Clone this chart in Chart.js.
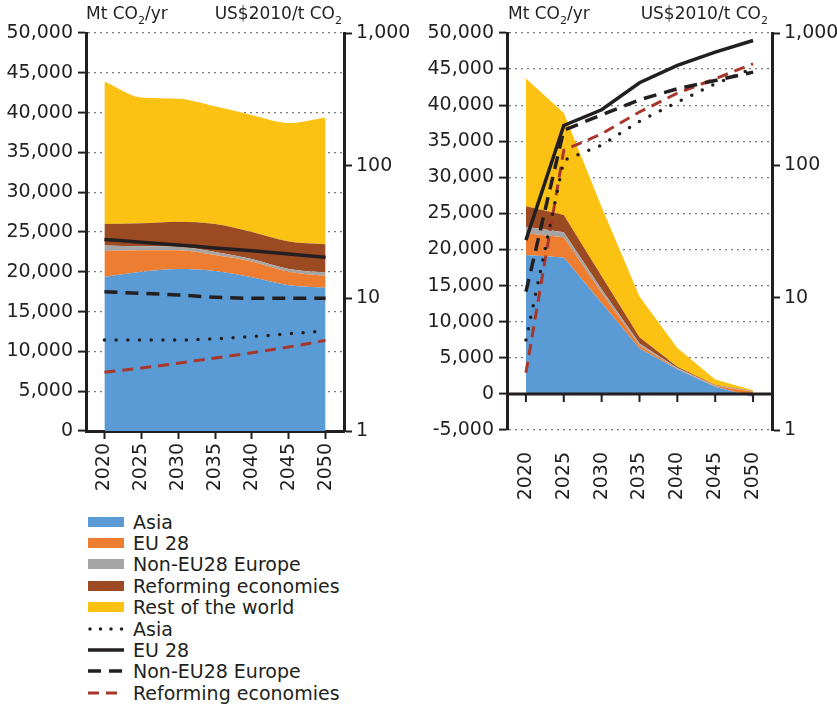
<!DOCTYPE html>
<html>
<head>
<meta charset="utf-8">
<script src="https://cdn.jsdelivr.net/npm/chart.js@4.4.1/dist/chart.umd.min.js"></script>
<style>
  body { margin: 0; background: #fff; font-family: "DejaVu Sans", sans-serif; color: #231f20; }
  #wrap { position: relative; width: 837px; height: 708px; overflow: hidden; }
  .panel { position: absolute; top: 0; height: 505px; }
  .unit { position: absolute; top: 5px; font-size: 17px; line-height: 1; white-space: nowrap; }
  .unit sub { font-size: 11px; vertical-align: -5px; }
  #legend { position: absolute; left: 88px; top: 511px; }
  .row { height: 21.4px; display: flex; align-items: center; font-size: 19px; white-space: nowrap; }
  .key { width: 36px; height: 10px; margin-right: 9px; flex: none; }
</style>
</head>
<body>
<div id="wrap">
  <div class="panel" style="left:0;width:420px">
    <canvas id="leftChart" width="420" height="505"></canvas>
    <div class="unit" style="left:86px">Mt CO<sub>2</sub>/yr</div>
    <div class="unit" style="right:78px">US$2010/t CO<sub>2</sub></div>
  </div>
  <div class="panel" style="left:420px;width:417px">
    <canvas id="rightChart" width="417" height="505"></canvas>
    <div class="unit" style="left:88px">Mt CO<sub>2</sub>/yr</div>
    <div class="unit" style="right:69px">US$2010/t CO<sub>2</sub></div>
  </div>
  <div id="legend"></div>
</div>
<script>
// years on the x axis
const years = ['2020', '2025', '2030', '2035', '2040', '2045', '2050'];

// left panel: emissions (Mt CO2/yr), stacked
const leftAsia      = [19350, 20000, 20350, 20100, 19300, 18300, 18000];
const leftEU28      = [3250, 2700, 2350, 2000, 2000, 1700, 1500];
const leftNonEU     = [700, 500, 450, 400, 300, 350, 400];
const leftReforming = [2700, 2900, 3150, 3500, 3400, 3450, 3550];
const leftRest      = [17900, 15800, 15450, 14800, 14700, 14900, 15950];

// left panel: carbon price (US$2010/t CO2)
const leftPriceAsia      = [4.85, 4.85, 4.85, 4.95, 5.15, 5.4, 5.7];
const leftPriceEU28      = [27.8, 26.5, 25.2, 24.0, 22.8, 21.6, 20.4];
const leftPriceNonEU     = [11.2, 10.9, 10.6, 10.2, 10.0, 10.0, 10.0];
const leftPriceReforming = [2.77, 2.98, 3.24, 3.55, 3.89, 4.3, 4.82];

// right panel: emissions
const rightAsia      = [19250, 18900, 12600, 6300, 3400, 1000, -400];
const rightEU28      = [3000, 2800, 1400, 400, 100, 100, 300];
const rightNonEU     = [900, 700, 500, 300, 100, 50, 50];
const rightReforming = [2850, 2400, 1800, 850, 150, 100, 50];
const rightRest      = [17700, 14100, 9600, 5650, 2600, 750, 100];

// right panel: carbon price
const rightPriceAsia      = [4.78, 109, 142, 215, 300, 413, 540];
const rightPriceEU28      = [27.2, 200, 263, 421, 569, 716, 878];
const rightPriceNonEU     = [11.1, 184, 241, 313, 379, 438, 506];
const rightPriceReforming = [2.71, 130, 173, 253, 351, 451, 585];

// axis ticks
const priceTicks = [1, 10, 100, 1000];

const areaNames  = ['Asia', 'EU 28', 'Non-EU28 Europe', 'Reforming economies', 'Rest of the world'];
const areaColors = ['#5b9bd5', '#ed7d31', '#a5a5a5', '#9c4a22', '#fbc113'];
const lineNames  = ['Asia', 'EU 28', 'Non-EU28 Europe', 'Reforming economies'];

const ink = '#231f20';
const lineStyles = [
    { color: ink, dash: [0, 11.7], width: 3.5, cap: 'round' },
    { color: ink, dash: [], width: 3.5, cap: 'butt' },
    { color: ink, dash: [13, 8], width: 3.5, cap: 'butt' },
    { color: '#a8372b', dash: [11, 7], width: 3, cap: 'butt' }
];

Chart.defaults.font.family = "'DejaVu Sans', sans-serif";
Chart.defaults.font.size = 19;
Chart.defaults.color = ink;

// solid zero line with ticks for the panel whose axis starts below zero
const zeroLine = {
    id: 'zeroLine',
    afterDatasetsDraw(chart) {
        const { ctx, chartArea, scales } = chart;
        const y0 = scales.y.getPixelForValue(0);
        ctx.save();
        ctx.strokeStyle = ink;
        ctx.lineWidth = 3;
        ctx.beginPath();
        ctx.moveTo(chartArea.left, y0);
        ctx.lineTo(chartArea.right, y0);
        ctx.stroke();
        ctx.lineWidth = 2;
        ctx.beginPath();
        scales.x.ticks.forEach((t, i) => {
            const x = scales.x.getPixelForTick(i);
            ctx.moveTo(x, y0);
            ctx.lineTo(x, y0 + 8);
        });
        ctx.stroke();
        ctx.restore();
    }
};

function buildPanel(canvasId, areas, prices, cfg) {
    const datasets = [];
    areas.forEach((vals, i) => {
        datasets.push({
            label: areaNames[i],
            data: vals,
            yAxisID: 'y',
            backgroundColor: areaColors[i],
            borderWidth: 0,
            pointRadius: 0,
            fill: i === 0 ? 'origin' : '-1',
            cubicInterpolationMode: cfg.smooth ? 'monotone' : 'default',
            tension: 0,
            order: 2
        });
    });
    prices.forEach((vals, i) => {
        const st = lineStyles[i];
        datasets.push({
            label: lineNames[i],
            data: vals,
            yAxisID: 'y2',
            borderColor: st.color,
            borderWidth: st.width,
            borderDash: st.dash,
            borderCapStyle: st.cap,
            pointRadius: 0,
            fill: false,
            cubicInterpolationMode: cfg.smooth ? 'monotone' : 'default',
            tension: 0,
            order: 1
        });
    });

    new Chart(document.getElementById(canvasId), {
        type: 'line',
        data: { labels: years, datasets },
        plugins: cfg.plugins || [],
        options: {
            responsive: false,
            animation: false,
            layout: { padding: { top: 33, bottom: 0, left: 0, right: 0 } },
            plugins: { legend: { display: false }, tooltip: { enabled: false } },
            scales: {
                x: {
                    offset: true,
                    grid: {
                        display: cfg.xTicks,
                        drawOnChartArea: false,
                        tickLength: 8,
                        tickColor: ink,
                        tickWidth: 2
                    },
                    border: { display: cfg.xTicks, color: ink, width: 3 },
                    ticks: { minRotation: 90, maxRotation: 90, padding: cfg.xPad, autoSkip: false },
                    afterFit: s => { s.height = cfg.xHeight; }
                },
                y: {
                    position: 'left',
                    stacked: true,
                    min: cfg.yMin,
                    max: 50000,
                    ticks: { stepSize: 5000, padding: 5, callback: v => v.toLocaleString('en-US') },
                    grid: {
                        color: '#7a7a7a',
                        lineWidth: 1.2,
                        tickLength: 8,
                        tickColor: ink,
                        tickWidth: 2,
                        tickBorderDash: []
                    },
                    border: { display: true, color: ink, width: 3, dash: [2, 4] },
                    afterFit: s => { s.width = cfg.yWidth; }
                },
                y2: {
                    type: 'logarithmic',
                    position: 'right',
                    min: 1,
                    max: 1000,
                    afterBuildTicks: s => { s.ticks = priceTicks.map(v => ({ value: v })); },
                    ticks: { padding: 4, callback: v => Number(v).toLocaleString('en-US') },
                    grid: {
                        drawOnChartArea: false,
                        tickLength: 8,
                        tickColor: ink,
                        tickWidth: 2
                    },
                    border: { display: true, color: ink, width: 3 },
                    afterFit: s => { s.width = cfg.y2Width; }
                }
            }
        }
    });
}

buildPanel('leftChart',
    [leftAsia, leftEU28, leftNonEU, leftReforming, leftRest],
    [leftPriceAsia, leftPriceEU28, leftPriceNonEU, leftPriceReforming],
    { smooth: true, yMin: 0, xTicks: true, xPad: 4, xHeight: 74, yWidth: 86, y2Width: 76 });

buildPanel('rightChart',
    [rightAsia, rightEU28, rightNonEU, rightReforming, rightRest],
    [rightPriceAsia, rightPriceEU28, rightPriceNonEU, rightPriceReforming],
    { smooth: false, yMin: -5000, xTicks: false, xPad: 14, xHeight: 75, yWidth: 87, y2Width: 65, plugins: [zeroLine] });

// legend below the left panel
const legend = document.getElementById('legend');
areaNames.forEach((name, i) => {
    const row = document.createElement('div');
    row.className = 'row';
    row.innerHTML = '<span class="key" style="background:' + areaColors[i] + '"></span>' + name;
    legend.appendChild(row);
});
lineNames.forEach((name, i) => {
    const st = lineStyles[i];
    const row = document.createElement('div');
    row.className = 'row';
    const dash = st.dash.length ? (i === 0 ? '0 10.5' : st.dash.join(' ')) : 'none';
    row.innerHTML = '<svg class="key" width="36" height="10" viewBox="0 0 36 10">' +
        '<line x1="' + (i === 0 ? 2 : 0) + '" y1="5" x2="36" y2="5" stroke="' + st.color + '" stroke-width="' + st.width +
        '" stroke-dasharray="' + dash + '" stroke-linecap="' + st.cap + '"/></svg>' + name;
    legend.appendChild(row);
});
</script>
</body>
</html>
